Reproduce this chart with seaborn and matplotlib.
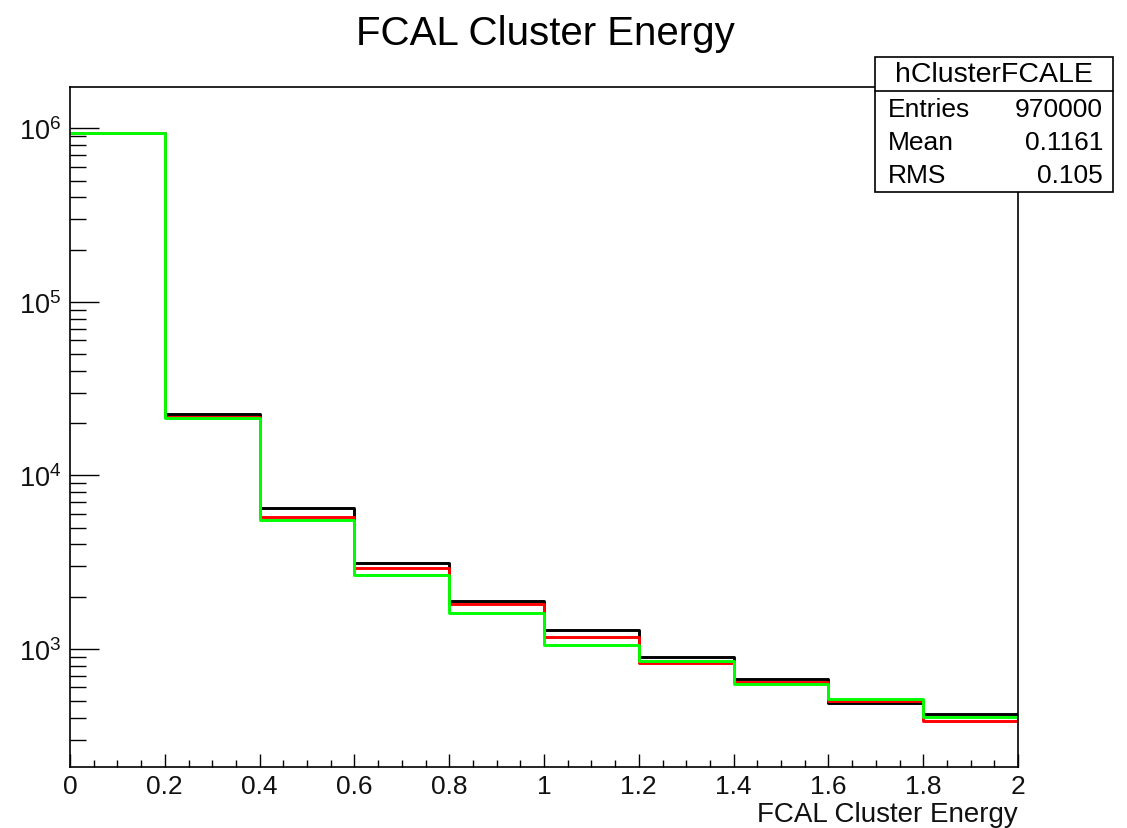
import numpy as np
import pandas as pd
import matplotlib
matplotlib.use("Agg")
import matplotlib.pyplot as plt
from matplotlib.ticker import MultipleLocator, LogLocator, LogFormatterSciNotation, NullFormatter
from matplotlib.patches import Rectangle
from matplotlib.lines import Line2D
import seaborn as sns

# ---- data ----
bin_edges = [0.0, 0.2, 0.4, 0.6, 0.8, 1.0, 1.2, 1.4, 1.6, 1.8, 2.0]
black_counts = [945000, 22550, 6480, 3110, 1878, 1283, 894, 670, 489, 423]
red_counts = [945000, 21760, 5770, 2922, 1812, 1165, 828, 646, 502, 385]
green_counts = [945000, 21300, 5550, 2673, 1602, 1056, 854, 624, 514, 404]
series_names = ["black", "red", "green"]
series_colors = ["#000000", "#ff0000", "#00ff00"]
x_ticks = [0, 0.2, 0.4, 0.6, 0.8, 1, 1.2, 1.4, 1.6, 1.8, 2]
x_tick_labels = ["0", "0.2", "0.4", "0.6", "0.8", "1", "1.2", "1.4", "1.6", "1.8", "2"]
stats_title = "hClusterFCALE"
stats_labels = ["Entries", "Mean", "RMS"]
stats_values = ["970000", "0.1161", "0.105"]
title_text = "FCAL Cluster Energy"
xlabel_text = "FCAL Cluster Energy"

sns.set_theme(style="white")
plt.rcParams["font.family"] = ["Liberation Sans", "DejaVu Sans"]
plt.rcParams["mathtext.default"] = "regular"
plt.rcParams["mathtext.fontset"] = "custom"
plt.rcParams["mathtext.rm"] = "Liberation Sans"

W, H = 1127, 829
fig = plt.figure(figsize=(W / 100, H / 100), dpi=100)
fig.patch.set_facecolor("white")
ax = fig.add_axes([70 / W, 1 - 768 / H, (1018 - 70) / W, (768 - 88) / H])
ax.set_facecolor("white")

centers = [(bin_edges[i] + bin_edges[i + 1]) / 2 for i in range(len(bin_edges) - 1)]
frames = []
for name, counts in zip(series_names, [black_counts, red_counts, green_counts]):
    frames.append(pd.DataFrame({"x": centers, "w": counts, "series": name}))
df = pd.concat(frames, ignore_index=True)

for name, color in zip(series_names, series_colors):
    sub = df[df["series"] == name]
    sns.histplot(data=sub, x="x", weights="w", bins=bin_edges, element="step",
                 fill=False, color=color, linewidth=2.1, ax=ax)

ax.set_yscale("log")
ax.set_xlim(0, 2)
ax.set_ylim(10 ** 2.319, 10 ** 6.239)

ax.set_xticks(x_ticks)
ax.set_xticklabels(x_tick_labels)
ax.xaxis.set_minor_locator(MultipleLocator(0.05))
ax.yaxis.set_major_locator(LogLocator(base=10, numticks=10))
ax.yaxis.set_major_formatter(LogFormatterSciNotation(base=10))
ax.yaxis.set_minor_locator(LogLocator(base=10, subs=np.arange(2, 10), numticks=20))
ax.yaxis.set_minor_formatter(NullFormatter())

ax.tick_params(axis="x", which="major", direction="in", length=9.5, width=1,
               color="black", labelsize=19, pad=5, bottom=True, top=False)
ax.tick_params(axis="x", which="minor", direction="in", length=5, width=1,
               color="black", bottom=True, top=False)
ax.tick_params(axis="y", which="major", direction="in", length=21, width=1,
               color="black", labelsize=19.5, pad=6, left=True, right=False)
ax.tick_params(axis="y", which="minor", direction="in", length=11.5, width=1,
               color="black", left=True, right=False)
for lab in ax.get_xticklabels() + ax.get_yticklabels():
    lab.set_color("#111111")

for s in ax.spines.values():
    s.set_visible(True)
    s.set_color("black")
    s.set_linewidth(1.2)

ax.set_xlabel("")
ax.set_ylabel("")

fig.text(545 / W, 1 - 34 / H, title_text, ha="center", va="center", fontsize=29, color="black")
fig.text(1018 / W, 1 - 815 / H, xlabel_text, ha="right", va="center", fontsize=20, color="#111111")

# stats box
bx0, bx1, by0, by1 = 875, 1113, 58, 193
fig.patches.append(Rectangle((bx0 / W, 1 - by1 / H), (bx1 - bx0) / W, (by1 - by0) / H,
                             transform=fig.transFigure, facecolor="white",
                             edgecolor="black", linewidth=1.2, zorder=5))
fig.lines.append(Line2D([bx0 / W, bx1 / W], [1 - 92 / H, 1 - 92 / H],
                        transform=fig.transFigure, color="black", linewidth=1.2, zorder=6))
fig.text((bx0 + bx1) / 2 / W, 1 - 75 / H, stats_title, ha="center", va="center",
         fontsize=20.5, color="black", zorder=7)
row_y = [110, 143, 176]
for lab, val, yy in zip(stats_labels, stats_values, row_y):
    fig.text(888 / W, 1 - yy / H, lab, ha="left", va="center", fontsize=19, color="black", zorder=7)
    fig.text(1103 / W, 1 - yy / H, val, ha="right", va="center", fontsize=19, color="black", zorder=7)

fig.savefig("out.png", dpi=100, facecolor="white")
